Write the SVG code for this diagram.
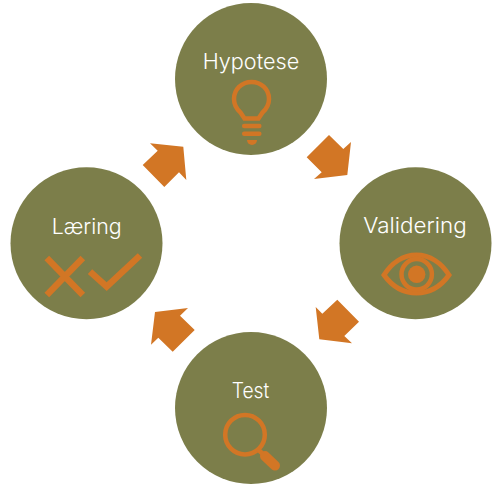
<svg xmlns="http://www.w3.org/2000/svg" width="500" height="487" viewBox="0 0 500 487">
<style>
.c{fill:#7c7e4a}
.t{font-family:"Inter","Liberation Sans",sans-serif;font-weight:300;font-size:21.6px;fill:#fff}
.a{fill:#d27625}
.i{fill:none;stroke:#d27625;stroke-width:4.5}
.f{fill:#d27625}
</style>
<rect width="500" height="487" fill="#fff"/>
<g id="connectors">
<polygon class="a" points="329,135 306.7,157.3 321.7,172.3 314,179 347.3,175 351,142 343.3,149"/>
<polygon class="a" points="337.3,299.7 359,321.7 344.3,336 352,343.3 319.3,339.3 315.7,307 322.3,313.7"/>
<polygon class="a" points="172.7,351.7 194.7,330 180,315.7 188,308 155,312 151,344.7 158.3,337.7"/>
<polygon class="a" points="142.7,165 164.3,187 179,172.3 186.3,180 183.3,146.7 150,143.3 157.7,150.7"/>
</g>
<g id="hypotese">
<circle class="c" cx="251" cy="79" r="76"/>
<text class="t" x="202.7" y="69" textLength="96.5" lengthAdjust="spacingAndGlyphs">Hypotese</text>
<path class="i" d="M244.5 118.5L240.5 112.5C236 108.5 234 104 234 99C234 89.5 241.5 82 251.5 82C261.5 82 269 89.5 269 99C269 104 267 108.5 262.5 112.5L258.5 118.5Z"/>
<path class="i" stroke-linecap="round" d="M244.2 126H259.3M244.2 133.7H259.3"/>
<path class="f" d="M247 140H257A5 5 0 0 1 247 140Z"/>
</g>
<g id="validering">
<circle class="c" cx="415.5" cy="243.3" r="76"/>
<text class="t" x="363.3" y="233.3" textLength="103.4" lengthAdjust="spacingAndGlyphs">Validering</text>
<path class="i" style="stroke-width:5" d="M384 275C391.500 263 403 255 416.500 255C430 255 441.500 263 449 275C441.500 285.500 430 293 416.500 293C403 293 391.500 285.500 384 275Z"/>
<circle class="i" cx="416.7" cy="274.3" r="15.2"/>
<circle class="f" cx="416.7" cy="274.3" r="8.7"/>
</g>
<g id="test">
<circle class="c" cx="251" cy="408" r="76"/>
<text class="t" x="231.7" y="397.7" textLength="37.6" lengthAdjust="spacingAndGlyphs">Test</text>
<circle class="i" cx="245" cy="434.7" r="19.8"/>
<path class="i" d="M258 449.5L264 455"/>
<path d="M265 456L275 465.500" fill="none" stroke="#d27625" stroke-width="10" stroke-linecap="round"/>
</g>
<g id="laering">
<circle class="c" cx="86.5" cy="243.3" r="76"/>
<text class="t" x="51.7" y="234" textLength="70" lengthAdjust="spacingAndGlyphs">Læring</text>
<path class="i" style="stroke-width:6.500" d="M46.800 258L82.800 295M82.800 258L46.800 295"/>
<path class="i" style="stroke-width:6.500" d="M90 271.700L106.700 286.700L140 255.500"/>
</g>
</svg>
